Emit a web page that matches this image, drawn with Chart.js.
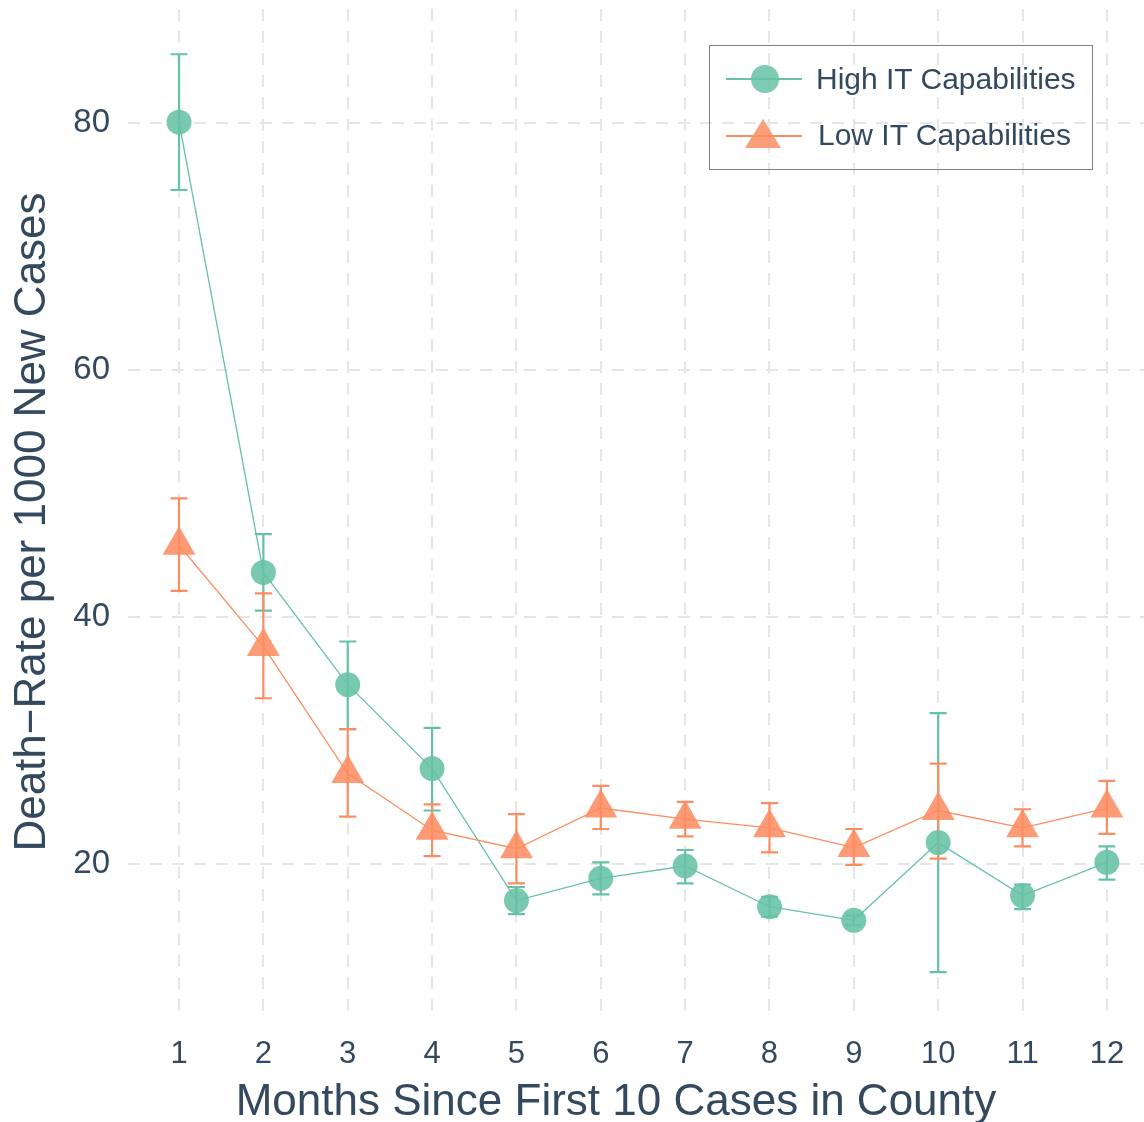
<!DOCTYPE html>
<html><head><meta charset="utf-8">
<script src="https://cdn.jsdelivr.net/npm/chart.js@4.4.1/dist/chart.umd.min.js"></script>
<style>
html,body{margin:0;padding:0;background:#fff;}
#wrap{position:relative;width:1144px;height:1122px;}
#legend{position:absolute;left:709px;top:45px;width:384px;height:125px;border:1.5px solid #808080;box-sizing:border-box;font-family:"Liberation Sans",Arial,sans-serif;color:#34495e;font-size:30px;}
.row{position:absolute;left:14px;height:40px;display:flex;align-items:center;white-space:nowrap;}
.row svg{display:block;}
.row span{display:block;line-height:40px;}
#xtitle{position:absolute;left:0;width:1232px;top:1076px;text-align:center;font-family:"Liberation Sans",Arial,sans-serif;color:#34495e;font-size:44px;line-height:48px;white-space:nowrap;}
#ytitle{position:absolute;left:-470px;width:1000px;top:498px;text-align:center;font-family:"Liberation Sans",Arial,sans-serif;color:#34495e;font-size:44px;line-height:48px;white-space:nowrap;transform:rotate(-90deg);transform-origin:500px 24px;}
</style>
</head><body>
<div id="wrap">
<canvas id="c" width="1144" height="1122"></canvas>
<div id="xtitle">Months Since First 10 Cases in County</div>
<div id="ytitle">Death&minus;Rate per 1000 New Cases</div>
<div id="legend">
  <div class="row" style="top:13px;"><svg width="80" height="40"><line x1="2" y1="20" x2="78" y2="20" stroke="#66c2a5" stroke-width="2"/><circle cx="41" cy="20" r="14" fill="rgba(102,194,165,0.85)"/></svg><span style="margin-left:12px;">High IT Capabilities</span></div>
  <div class="row" style="top:69px;"><svg width="80" height="40"><line x1="2" y1="21" x2="78" y2="21" stroke="#fc8d62" stroke-width="2"/><polygon points="39,4 57,33 21,33" fill="rgba(252,141,98,0.85)"/></svg><span style="margin-left:14px;">Low IT Capabilities</span></div>
</div>
</div>
<script>
const months = [1,2,3,4,5,6,7,8,9,10,11,12];
const highMean  = [80.1, 43.6, 34.5, 27.7, 17.0, 18.8, 19.8, 16.5, 15.4, 21.7, 17.4, 20.1];
const highLower = [74.6, 40.5, 30.9, 24.3, 15.9, 17.5, 18.4, 15.7, 15.0, 11.2, 16.3, 18.7];
const highUpper = [85.6, 46.7, 38.0, 31.0, 18.1, 20.1, 21.1, 17.3, 15.8, 32.2, 18.3, 21.4];
const lowMean   = [45.8, 37.6, 27.3, 22.7, 21.2, 24.5, 23.6, 22.9, 21.3, 24.3, 22.9, 24.5];
const lowLower  = [42.1, 33.4, 23.8, 20.6, 18.4, 22.8, 22.2, 20.9, 19.9, 20.4, 21.4, 22.4];
const lowUpper  = [49.6, 41.9, 30.9, 24.8, 24.0, 26.3, 25.0, 24.9, 22.8, 28.1, 24.4, 26.7];
const yTicks = [20, 40, 60, 80];
const seriesNames = ['High IT Capabilities', 'Low IT Capabilities'];

const textColor = '#34495e';
const fontFam = '"Liberation Sans", Arial, sans-serif';
const green = '#66c2a5', orange = '#fc8d62';

const errorBars = {
  id: 'errorBars',
  beforeDatasetsDraw(chart) {
    const {ctx, scales: {x, y}} = chart;
    const sets = [[highLower, highUpper, green], [lowLower, lowUpper, orange]];
    ctx.save();
    ctx.lineWidth = 2.2;
    sets.forEach(([lo, hi, col]) => {
      ctx.strokeStyle = col;
      months.forEach((m, i) => {
        const px = x.getPixelForValue(m);
        const y1 = y.getPixelForValue(lo[i]);
        const y2 = y.getPixelForValue(hi[i]);
        ctx.beginPath();
        ctx.moveTo(px, y1); ctx.lineTo(px, y2);
        ctx.moveTo(px - 8.5, y1); ctx.lineTo(px + 8.5, y1);
        ctx.moveTo(px - 8.5, y2); ctx.lineTo(px + 8.5, y2);
        ctx.stroke();
      });
    });
    ctx.restore();
  }
};

new Chart(document.getElementById('c'), {
  type: 'line',
  data: {
    datasets: [
      {
        label: seriesNames[0],
        data: months.map((m, i) => ({x: m, y: highMean[i]})),
        borderColor: green, borderWidth: 1.3,
        backgroundColor: 'rgba(102,194,165,0.88)',
        pointStyle: 'circle', pointRadius: 12.5, pointBorderWidth: 0,
        pointBackgroundColor: 'rgba(102,194,165,0.88)',
        order: 1
      },
      {
        label: seriesNames[1],
        data: months.map((m, i) => ({x: m, y: lowMean[i]})),
        borderColor: orange, borderWidth: 1.3,
        backgroundColor: 'rgba(252,141,98,0.88)',
        pointStyle: 'triangle', pointRadius: 19, pointBorderWidth: 0,
        pointBackgroundColor: 'rgba(252,141,98,0.88)',
        order: 0
      }
    ]
  },
  options: {
    responsive: false,
    animation: false,
    devicePixelRatio: 1,
    layout: {autoPadding: false, padding: {top: 9, right: 0, left: 0, bottom: 0}},
    plugins: {legend: {display: false}, tooltip: {enabled: false}},
    elements: {line: {tension: 0}},
    scales: {
      x: {
        type: 'linear', min: 0.395, max: 12.44,
        afterBuildTicks: s => { s.ticks = months.map(v => ({value: v})); },
        afterFit: s => { s.height = 104; s.paddingLeft = 0; s.paddingRight = 0; },
        grid: {color: '#e6e6e6', lineWidth: 2, drawTicks: false},
        border: {display: false, dash: [12, 10]},
        ticks: {color: textColor, font: {family: fontFam, size: 31}, padding: 18, maxRotation: 0, autoSkip: false},
        title: {display: false}
      },
      y: {
        type: 'linear', min: 7.48, max: 89.27,
        afterBuildTicks: s => { s.ticks = yTicks.map(v => ({value: v})); },
        afterFit: s => { s.width = 128; s.paddingTop = 0; s.paddingBottom = 0; },
        grid: {color: '#e6e6e6', lineWidth: 2, drawTicks: false},
        border: {display: false, dash: [12, 10]},
        ticks: {color: textColor, font: {family: fontFam, size: 33}, padding: 18},
        title: {display: false}
      }
    }
  },
  plugins: [errorBars]
});
</script>
</body></html>
